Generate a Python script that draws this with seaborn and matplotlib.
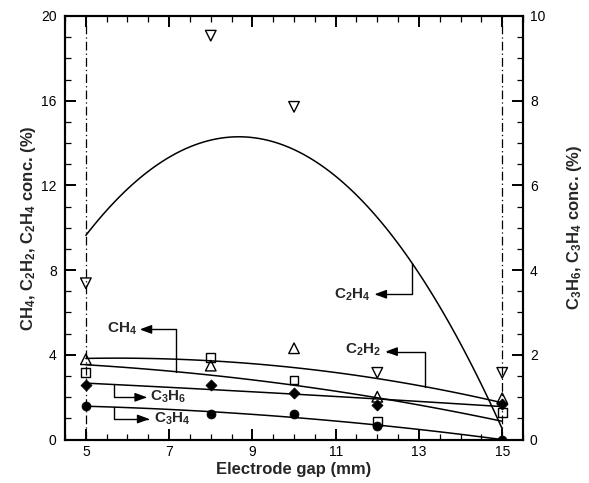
import numpy as np
import matplotlib
matplotlib.use("Agg")
import matplotlib.pyplot as plt
from matplotlib.ticker import MultipleLocator
import seaborn as sns

# Product concentrations versus electrode gap
gap = [5, 8, 10, 12, 15]
ch4 = [3.16, 3.88, 2.81, 0.84, 1.28]
c2h2 = [3.79, 3.49, 4.31, 2.02, 1.95]
c2h4 = [7.38, 19.07, 15.71, 3.15, 3.15]
c3h6 = [1.285, 1.285, 1.105, 0.815, 0.83]
c3h4 = [0.80, 0.595, 0.60, 0.31, 0.0]

x_ticks = [5, 7, 9, 11, 13, 15]
left_ticks = [0, 4, 8, 12, 16, 20]
right_ticks = [0, 2, 4, 6, 8, 10]

sns.set_style("ticks")
plt.rcParams.update({
    "font.family": ["Liberation Sans", "DejaVu Sans"],
    "mathtext.fontset": "custom",
    "mathtext.rm": "Liberation Sans:bold",
    "mathtext.it": "Liberation Sans:bold:italic",
    "mathtext.bf": "Liberation Sans:bold",
    "axes.axisbelow": False,
    "xtick.direction": "in",
    "ytick.direction": "in",
    "xtick.color": "black",
    "ytick.color": "black",
    "axes.edgecolor": "black",
    "axes.linewidth": 1.5,
})

fig, ax = plt.subplots(figsize=(5.89, 4.83), dpi=100)
fig.subplots_adjust(left=0.1104, right=0.888, bottom=0.090, top=0.9669)
ax2 = ax.twinx()

line_kws = dict(color="black", lw=1.1)
open_kws = dict(color="black", facecolor="none", edgecolor="black", linewidth=1.0, zorder=5)
fill_kws = dict(color="black", edgecolor="black", linewidth=0.5, zorder=5)

# quadratic trend lines
for y in (ch4, c2h2, c2h4):
    sns.regplot(x=gap, y=y, order=2, ci=None, scatter=False, ax=ax, line_kws=line_kws)
for y in (c3h6, c3h4):
    sns.regplot(x=gap, y=y, order=2, ci=None, scatter=False, ax=ax2, line_kws=line_kws)

# measured points
sns.scatterplot(x=gap, y=ch4, marker="s", s=40, ax=ax, **open_kws)
sns.scatterplot(x=gap, y=c2h2, marker="^", s=58, ax=ax, **open_kws)
sns.scatterplot(x=gap, y=c2h4, marker="v", s=58, ax=ax, **open_kws)
sns.scatterplot(x=gap, y=c3h6, marker="D", s=32, ax=ax2, **fill_kws)
sns.scatterplot(x=gap, y=c3h4, marker="o", s=42, ax=ax2, **fill_kws)

# gap limits
for xv in (gap[0], gap[-1]):
    ax.axvline(xv, color="black", lw=0.9, ls=(0, (7, 2.5, 1, 2.5)), zorder=1)

ax.set_xlabel("Electrode gap (mm)", fontsize=12, fontweight="bold", labelpad=2)
ax.set_ylabel(r"$\mathbf{CH_4}$, $\mathbf{C_2H_2}$, $\mathbf{C_2H_4}$ conc. (%)",
              fontsize=12, fontweight="bold", labelpad=2)
ax2.set_ylabel(r"$\mathbf{C_3H_6}$, $\mathbf{C_3H_4}$ conc. (%)",
               fontsize=12, fontweight="bold", labelpad=14, rotation=90)

# labels with elbow arrows leading from each trend line
arrow = dict(arrowstyle="-|>,head_length=0.6,head_width=0.22", color="black", lw=1.0,
             mutation_scale=12, shrinkA=0, shrinkB=0,
             connectionstyle="angle,angleA=90,angleB=0,rad=0")
lab_kw = dict(fontsize=11, fontweight="bold", va="center")


def fit_at(xs, ys, x0):
    return np.polyval(np.polyfit(xs, ys, 2), x0)


ax.annotate("", xy=(11.93, 6.86), xytext=(12.83, fit_at(gap, c2h4, 12.83)), arrowprops=arrow)
ax.text(11.83, 6.85, r"$\mathbf{C_2H_4}$", ha="right", **lab_kw)

ax.annotate("", xy=(12.19, 4.15), xytext=(13.15, fit_at(gap, c2h2, 13.15)), arrowprops=arrow)
ax.text(12.1, 4.22, r"$\mathbf{C_2H_2}$", ha="right", **lab_kw)

ax.annotate("", xy=(6.29, 5.2), xytext=(7.16, fit_at(gap, ch4, 7.16)), arrowprops=arrow)
ax.text(6.22, 5.25, r"$\mathbf{CH_4}$", ha="right", **lab_kw)

ax2.annotate("", xy=(6.47, 0.997), xytext=(5.67, fit_at(gap, c3h6, 5.67)), arrowprops=arrow)
ax2.text(6.55, 1.0, r"$\mathbf{C_3H_6}$", ha="left", **lab_kw)

ax2.annotate("", xy=(6.53, 0.484), xytext=(5.67, fit_at(gap, c3h4, 5.67)), arrowprops=arrow)
ax2.text(6.64, 0.49, r"$\mathbf{C_3H_4}$", ha="left", **lab_kw)

# axis ranges and ticks, set last
ax.set_xlim(4.5, 15.5)
ax.set_ylim(0, 20)
ax2.set_ylim(0, 10)
ax.set_xticks(x_ticks)
ax.set_xticklabels([str(v) for v in x_ticks])
ax.set_yticks(left_ticks)
ax.set_yticklabels([str(v) for v in left_ticks])
ax2.set_yticks(right_ticks)
ax2.set_yticklabels([str(v) for v in right_ticks])
ax.xaxis.set_minor_locator(MultipleLocator(0.5))
ax.yaxis.set_minor_locator(MultipleLocator(1))
ax2.yaxis.set_minor_locator(MultipleLocator(0.5))

ax.tick_params(axis="x", which="both", direction="in", top=True, bottom=True,
               labelsize=10, pad=4, color="black")
ax.tick_params(axis="y", which="both", direction="in", left=True, right=False,
               labelsize=10, pad=6, color="black")
ax2.tick_params(axis="y", which="both", direction="in", right=True, left=False,
                labelsize=10, pad=5, color="black")
for a in (ax, ax2):
    a.tick_params(which="major", length=8, width=1.4)
    a.tick_params(which="minor", length=4, width=0.9)
    a.grid(False)

fig.savefig("out.png", dpi=100)
